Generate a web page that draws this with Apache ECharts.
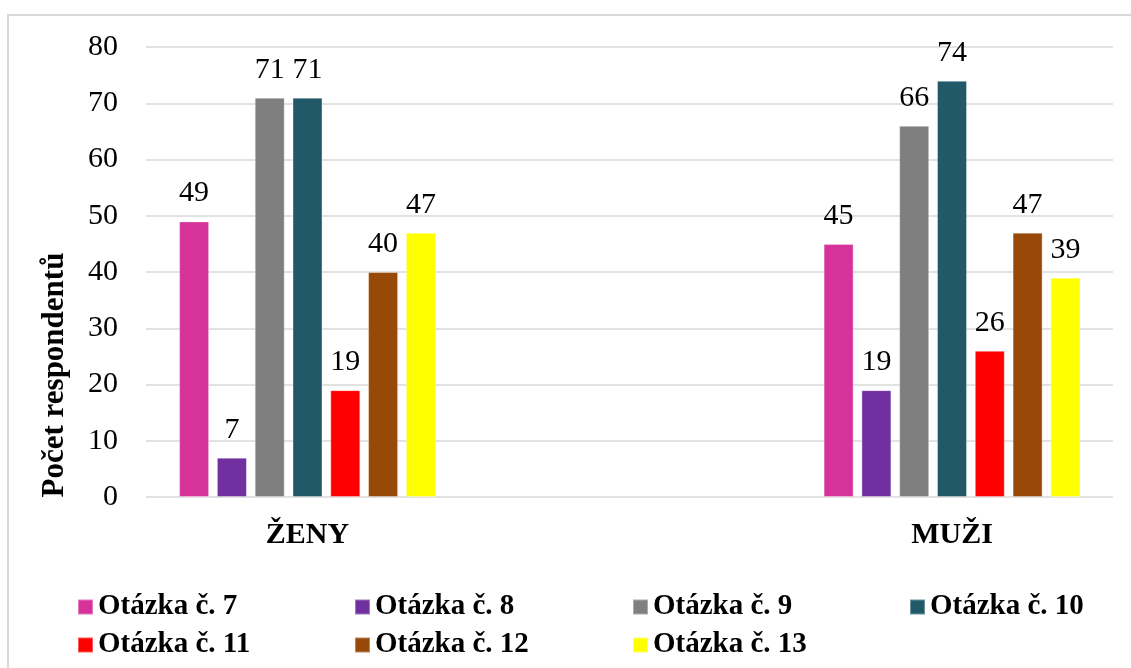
<!DOCTYPE html>
<html>
<head>
<meta charset="utf-8">
<script src="https://cdn.jsdelivr.net/npm/echarts@6/dist/echarts.min.js"></script>
<style>
  html, body { margin: 0; padding: 0; background: #ffffff; }
  #chart { width: 1131px; height: 668px; }
</style>
</head>
<body>
<div id="chart"></div>
<script>
// ---- data ----
const categories = ['ŽENY', 'MUŽI'];
const seriesNames = ['Otázka č. 7', 'Otázka č. 8', 'Otázka č. 9', 'Otázka č. 10', 'Otázka č. 11', 'Otázka č. 12', 'Otázka č. 13'];
const q7  = [49, 45];
const q8  = [7, 19];
const q9  = [71, 66];
const q10 = [71, 74];
const q11 = [19, 26];
const q12 = [40, 47];
const q13 = [47, 39];
const seriesValues = [q7, q8, q9, q10, q11, q12, q13];
const yTicks = [0, 10, 20, 30, 40, 50, 60, 70, 80];
const yTitle = 'Počet respondentů';

// ---- style ----
const colors = ['#D6339A', '#7030A0', '#7F7F7F', '#215968', '#FF0000', '#984807', '#FFFF00'];
const serif = '"Liberation Serif", "Times New Roman", serif';
const legendPos = [
  [77, 592], [354, 592], [632, 592], [909, 592],
  [77, 630], [354, 630], [632, 630]
];

const chart = echarts.init(document.getElementById('chart'), null, { renderer: 'canvas' });

const option = {
  backgroundColor: '#ffffff',
  animation: false,
  color: colors,
  graphic: [
    {
      type: 'rect', z: -10, silent: true,
      shape: { x: 8, y: 15, width: 1200, height: 700 },
      style: { fill: 'none', stroke: '#D9D9D9', lineWidth: 2 }
    },
    {
      type: 'text', x: 55, y: 375, rotation: Math.PI / 2,
      style: {
        text: yTitle, font: 'bold 31px ' + serif, fill: '#000000',
        textAlign: 'center', textVerticalAlign: 'middle'
      }
    }
  ],
  grid: [
    { left: 146, right: 18, top: 47, bottom: 171 },
    { left: 307.5, right: 179, top: 47, bottom: 171 }
  ],
  xAxis: [
    { type: 'category', gridIndex: 0, data: categories, show: false },
    {
      type: 'category', gridIndex: 1, data: categories, boundaryGap: false,
      axisLine: { show: false }, axisTick: { show: false }, splitLine: { show: false },
      axisLabel: { fontFamily: serif, fontSize: 30, fontWeight: 'bold', color: '#000000', margin: 23 }
    }
  ],
  yAxis: [
    {
      type: 'value', gridIndex: 0, min: yTicks[0], max: yTicks[yTicks.length - 1], interval: 10,
      axisLine: { show: false }, axisTick: { show: false },
      splitLine: { lineStyle: { color: '#D9D9D9', width: 1.5 } },
      axisLabel: { fontFamily: serif, fontSize: 30, color: '#000000', margin: 28 }
    },
    {
      type: 'value', gridIndex: 1, min: yTicks[0], max: yTicks[yTicks.length - 1], interval: 10,
      show: false, splitLine: { show: false }
    }
  ],
  legend: seriesNames.map((n, i) => ({
    data: [n],
    left: legendPos[i][0], top: legendPos[i][1],
    padding: 0,
    icon: 'rect', itemWidth: 15, itemHeight: 15,
    textStyle: { fontFamily: serif, fontSize: 29, fontWeight: 'bold', color: '#000000', lineHeight: 30 }
  })),
  series: seriesNames.map((n, i) => ({
    name: n,
    type: 'bar',
    xAxisIndex: 1, yAxisIndex: 1,
    data: seriesValues[i],
    barWidth: 30,
    barGap: '26%',
    clip: false,
    itemStyle: { color: colors[i], borderColor: 'rgba(255,255,255,0.35)', borderWidth: 1 },
    label: {
      show: true, position: 'top', distance: 13,
      fontFamily: serif, fontSize: 30, color: '#000000'
    }
  }))
};

chart.setOption(option);
</script>
</body>
</html>
